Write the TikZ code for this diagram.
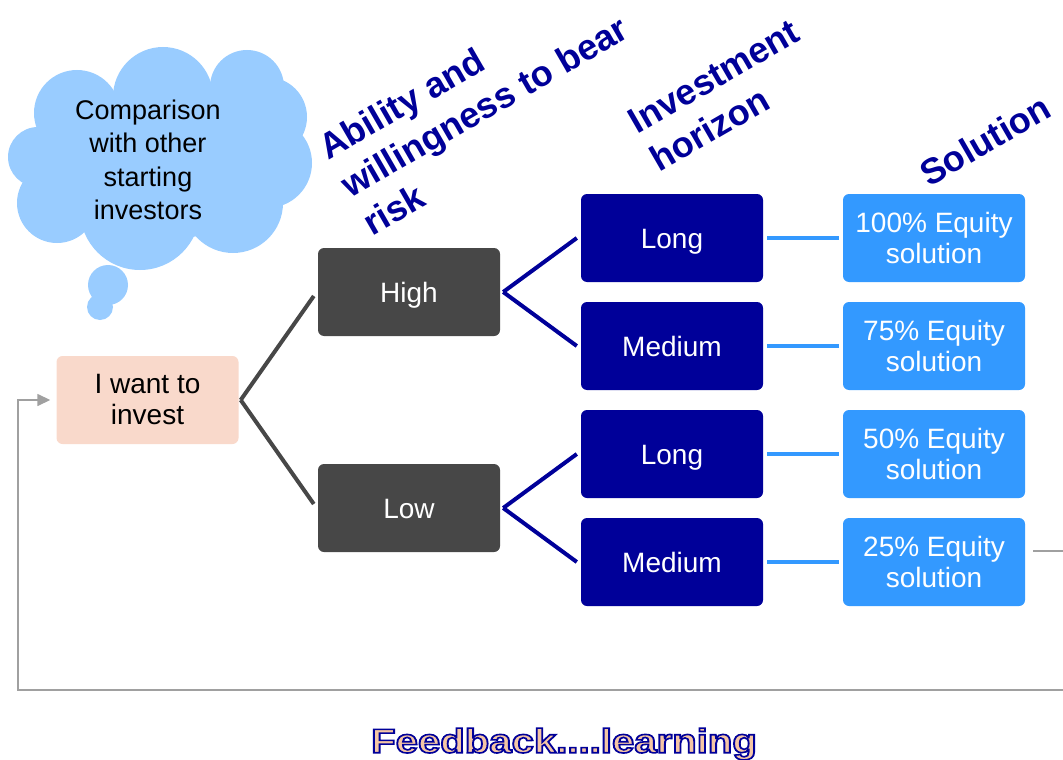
\documentclass[tikz,border=0pt]{standalone}
\usepackage{fontspec}
\setmainfont{Liberation Sans}
\usetikzlibrary{arrows.meta}
\definecolor{peach}{HTML}{F9D9CB}
\definecolor{darkg}{HTML}{474747}
\definecolor{navy}{HTML}{000099}
\definecolor{solblue}{HTML}{3399FF}
\definecolor{cloudblue}{HTML}{99CCFF}
\definecolor{fbfill}{HTML}{F5C6A5}
\definecolor{loopgray}{HTML}{A0A0A0}
\begin{document}
\begin{tikzpicture}[x=1pt,y=-1pt,
  basebox/.style={rounded corners=6pt, minimum width=182pt, minimum height=88pt, inner sep=0pt, align=center, font=\fontsize{28}{31}\selectfont},
  oneline/.style={text height=20pt, text depth=0pt},
  riskbox/.style={basebox, oneline, fill=darkg, text=white},
  horbox/.style={basebox, oneline, fill=navy, text=white},
  solbox/.style={basebox, fill=solblue, text=white},
  header/.style={rotate=30, text=navy, font=\fontsize{36}{44}\selectfont\bfseries, align=left, inner sep=0pt, anchor=north west},
  gline/.style={draw=darkg, line width=4pt},
  nline/.style={draw=navy, line width=4pt},
  bline/.style={draw=solblue, line width=4pt},
  loopline/.style={draw=loopgray, line width=1.5pt},
]
\useasboundingbox (0,0) rectangle (1063,760);
\clip (0,0) rectangle (1063,760);

% thought cloud
\fill[cloudblue] (160,165) ellipse [x radius=115pt, y radius=75pt];
\fill[cloudblue] (38,157) circle (30pt);
\fill[cloudblue] (77,113) circle (43pt);
\fill[cloudblue] (163,97) circle (50pt);
\fill[cloudblue] (247,87) circle (37pt);
\fill[cloudblue] (267,117) circle (40pt);
\fill[cloudblue] (267,163) circle (45pt);
\fill[cloudblue] (233,203) circle (50pt);
\fill[cloudblue] (140,210) circle (60pt);
\fill[cloudblue] (57,203) circle (40pt);
\fill[cloudblue] (108,285) circle (20pt);
\fill[cloudblue] (100,307) circle (13pt);
\node[font=\fontsize{27}{33.5}\selectfont, align=center, inner sep=0pt] (thoughttext) at (148,160) {Comparison\\with other\\starting\\investors};

% headers
\node[header] (h1) at (315,137.5) {Ability and\\willingness to bear\\risk};
\node[header] (h2) at (625,113) {Investment\\horizon};
\node[header, anchor=base west] (h3) at (929,188) {Solution};

% boxes
\node[basebox, fill=peach, text=black] (invest) at (147.5,400) {I want to\\invest};
\node[riskbox] (high) at (409,292) {High};
\node[riskbox] (low) at (409,508) {Low};
\node[horbox] (long1) at (672,238) {Long};
\node[horbox] (med1) at (672,346) {Medium};
\node[horbox] (long2) at (672,454) {Long};
\node[horbox] (med2) at (672,562) {Medium};
\node[solbox] (s100) at (934,238) {100\% Equity\\solution};
\node[solbox] (s75) at (934,346) {75\% Equity\\solution};
\node[solbox] (s50) at (934,454) {50\% Equity\\solution};
\node[solbox] (s25) at (934,562) {25\% Equity\\solution};

% connectors
\draw[gline] ([xshift=2pt]invest.east) -- ([xshift=-4pt,yshift=-4pt]high.west);
\draw[gline] ([xshift=2pt]invest.east) -- ([xshift=-4pt,yshift=4pt]low.west);
\draw[nline] ([xshift=3pt]high.east) -- ([xshift=-4pt]long1.west);
\draw[nline] ([xshift=3pt]high.east) -- ([xshift=-4pt]med1.west);
\draw[nline] ([xshift=3pt]low.east) -- ([xshift=-4pt]long2.west);
\draw[nline] ([xshift=3pt]low.east) -- ([xshift=-4pt]med2.west);
\draw[bline] ([xshift=4pt]long1.east) -- ([xshift=-4pt]s100.west);
\draw[bline] ([xshift=4pt]med1.east) -- ([xshift=-4pt]s75.west);
\draw[bline] ([xshift=4pt]long2.east) -- ([xshift=-4pt]s50.west);
\draw[bline] ([xshift=4pt]med2.east) -- ([xshift=-4pt]s25.west);

% feedback loop
\coordinate (loopR) at (1085,551);
\draw[loopline, -{Triangle[length=13pt,width=12pt]}] ([xshift=8pt,yshift=11pt]s25.east) -- (loopR) |- (18,690) -- (18,400) -- ([xshift=-6pt]invest.west);

% feedback label
\node[font=\fontsize{34}{36}\selectfont\bfseries, text=fbfill, inner sep=0pt] (fb) at (564,744) {\scalebox{1.18}[1]{\special{pdf:literal direct 2 Tr 1.6 w 0 0 0.6 RG}Feedback....learning\special{pdf:literal direct 0 Tr}}};
\end{tikzpicture}
\end{document}
